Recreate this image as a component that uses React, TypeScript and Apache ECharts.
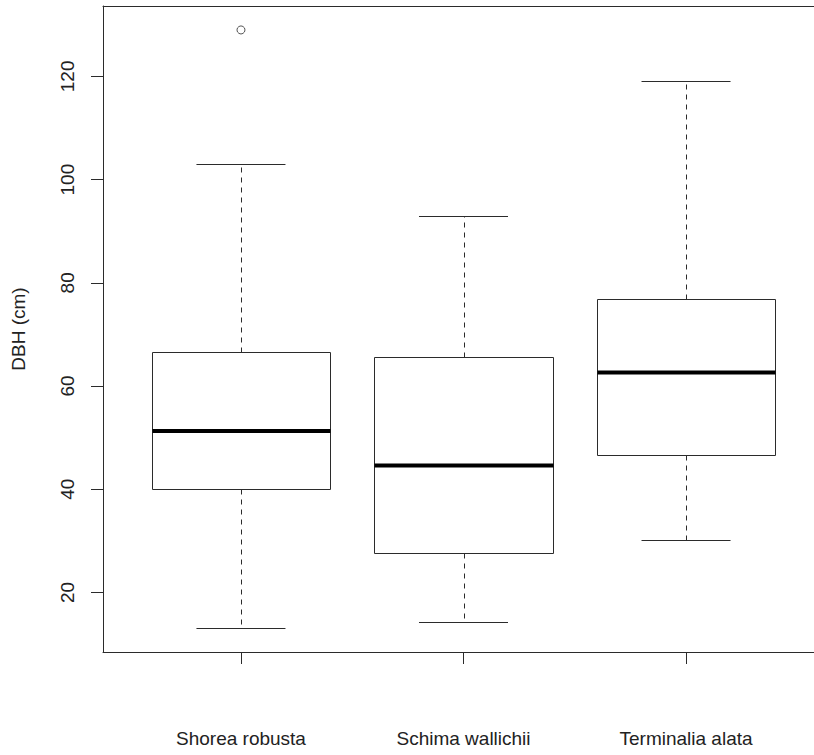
import React, { useEffect, useRef } from "react";
import * as echarts from "echarts";

const species = ["Shorea robusta", "Schima wallichii", "Terminalia alata"];
const whiskerLow = [13.1, 14.2, 30.2];
const q1 = [40.1, 27.7, 46.7];
const median = [51.3, 44.6, 62.6];
const q3 = [66.5, 65.6, 76.9];
const whiskerHigh = [103, 93, 119.1];
const outlierGroup = [1];
const outlierValue = [129];
const yTicks = [20, 40, 60, 80, 100, 120];

const FONT = '"Liberation Sans", Arial, Helvetica, sans-serif';
const LINE = "#2b2b2b";

export default function App() {
  const ref = useRef<HTMLDivElement>(null);
  useEffect(() => {
    if (!ref.current) return;
    const chart = echarts.init(ref.current, null, { renderer: "svg" });
    const boxData = species.map((_, i) => [i + 1, whiskerLow[i], q1[i], median[i], q3[i], whiskerHigh[i]]);
    const outData = outlierGroup.map((g, i) => [g, outlierValue[i]]);
    const snap = (v: number) => Math.round(v) + 0.5;
    chart.setOption({
      animation: false,
      backgroundColor: "#fff",
      grid: {
        left: 103,
        top: 6,
        width: 721,
        height: 646,
        outerBoundsMode: "none",
        containLabel: false,
        show: false,
      },
      xAxis: [
        {
          type: "value",
          position: "bottom",
          min: 0.38,
          max: 3.62,
          splitLine: { show: false },
          axisLine: { show: true, onZero: false, lineStyle: { color: LINE, width: 1 } },
          axisTick: { show: true, length: 12, inside: false, customValues: [1, 2, 3], lineStyle: { color: LINE, width: 1 } },
          axisLabel: {
            customValues: [1, 2, 3],
            formatter: (v: number) => species[Math.round(v) - 1] ?? "",
            margin: 77,
            fontSize: 19,
            fontFamily: FONT,
            color: "#222",
          },
        },
        {
          type: "value",
          position: "top",
          min: 0.38,
          max: 3.62,
          splitLine: { show: false },
          axisLine: { show: true, onZero: false, lineStyle: { color: LINE, width: 1 } },
          axisTick: { show: false },
          axisLabel: { show: false },
        },
      ],
      yAxis: {
        type: "value",
        min: 8.46,
        max: 133.64,
        name: "DBH (cm)",
        nameLocation: "middle",
        nameRotate: 90,
        nameGap: 75,
        nameTextStyle: { fontSize: 19, fontFamily: FONT, color: "#222" },
        splitLine: { show: false },
        axisLine: { show: true, onZero: false, lineStyle: { color: LINE, width: 1 } },
        axisTick: { show: true, length: 12, inside: false, customValues: yTicks, lineStyle: { color: LINE, width: 1 } },
        axisLabel: {
          customValues: yTicks,
          rotate: 90,
          margin: 26,
          fontSize: 19,
          fontFamily: FONT,
          color: "#222",
        },
      },
      series: [
        {
          type: "custom",
          xAxisIndex: 0,
          data: boxData,
          encode: { x: 0, y: [1, 2, 3, 4, 5] },
          renderItem: (params: any, api: any) => {
            const x = api.value(0);
            const lo = api.value(1);
            const a = api.value(2);
            const m = api.value(3);
            const b = api.value(4);
            const hi = api.value(5);
            const tl = api.coord([x - 0.4, b]);
            const br = api.coord([x + 0.4, a]);
            const cx = snap(api.coord([x, m])[0]);
            const ym = api.coord([x, m])[1];
            const yHi = snap(api.coord([x, hi])[1]);
            const yLo = snap(api.coord([x, lo])[1]);
            const capL = api.coord([x - 0.2, hi])[0];
            const capR = api.coord([x + 0.2, hi])[0];
            const left = snap(tl[0]);
            const right = snap(br[0]);
            const top = snap(tl[1]);
            const bottom = snap(br[1]);
            const dashed = { stroke: LINE, lineWidth: 1, lineDash: [5, 5] };
            const solid = { stroke: LINE, lineWidth: 1 };
            return {
              type: "group",
              children: [
                { type: "line", shape: { x1: cx, y1: top, x2: cx, y2: yHi }, style: dashed },
                { type: "line", shape: { x1: cx, y1: bottom, x2: cx, y2: yLo }, style: dashed },
                { type: "line", shape: { x1: capL, y1: yHi, x2: capR, y2: yHi }, style: solid },
                { type: "line", shape: { x1: capL, y1: yLo, x2: capR, y2: yLo }, style: solid },
                {
                  type: "rect",
                  shape: { x: left, y: top, width: right - left, height: bottom - top },
                  style: { fill: "#fff", stroke: LINE, lineWidth: 1 },
                },
                { type: "line", shape: { x1: left, y1: ym, x2: right, y2: ym }, style: { stroke: "#000", lineWidth: 4 } },
              ],
            };
          },
        },
        {
          type: "scatter",
          xAxisIndex: 0,
          data: outData,
          symbol: "circle",
          symbolSize: 8,
          itemStyle: { color: "#fff", borderColor: LINE, borderWidth: 1 },
        },
      ],
    });
    return () => chart.dispose();
  }, []);
  return <div ref={ref} style={{ position: "absolute", left: 0, top: 0, width: 814, height: 755 }} />;
}
